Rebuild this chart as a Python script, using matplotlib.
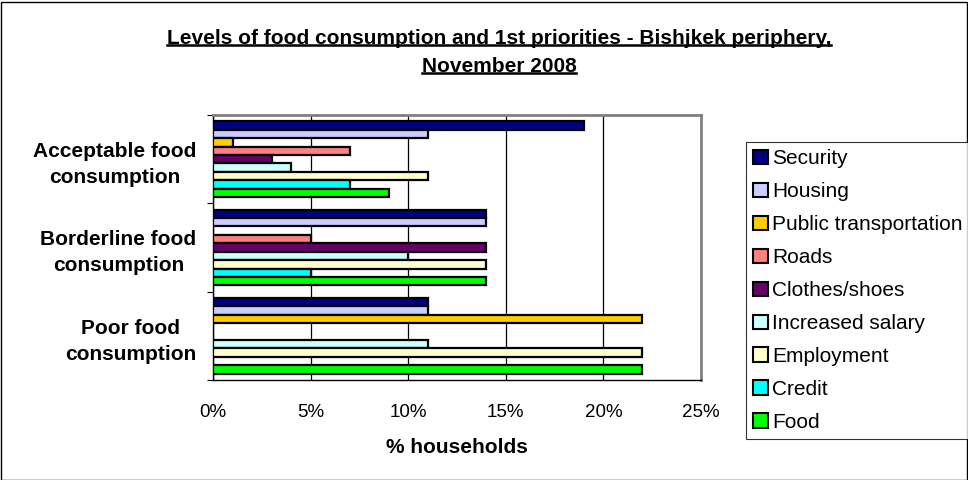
import numpy as np
import matplotlib
matplotlib.use('Agg')
from matplotlib import pyplot as plt
from matplotlib.patches import Patch, Rectangle
from matplotlib.lines import Line2D

plt.rcParams['font.family'] = ['Liberation Sans', 'DejaVu Sans']

groups = ['Acceptable food\nconsumption', 'Borderline food\nconsumption', 'Poor food\nconsumption']
series = ['Security', 'Housing', 'Public transportation', 'Roads', 'Clothes/shoes',
          'Increased salary', 'Employment', 'Credit', 'Food']
colors = ['#000080', '#CCCCFF', '#FFCC00', '#FF8080', '#660066',
          '#CCFFFF', '#FFFFCC', '#00FFFF', '#00FF00']

# % households, one list per consumption group, in series order
acceptable = [19, 11, 1, 7, 3, 4, 11, 7, 9]
borderline = [14, 14, 0, 5, 14, 10, 14, 5, 14]
poor = [11, 11, 22, 0, 0, 11, 22, 0, 22]
values = [acceptable, borderline, poor]

title_lines = ['Levels of food consumption and 1st priorities - Bishjkek periphery,',
               'November 2008']

fig = plt.figure(figsize=(9.68, 4.8), dpi=100)
ax = fig.add_axes([213 / 968, 1 - 380 / 480, 488 / 968, 265 / 480])

centers = [2, 1, 0]
span = 0.86
h = span / len(series)
for g, c in enumerate(centers):
    for i, name in enumerate(series):
        y = c + span / 2 - h * (i + 0.5)
        v = values[g][i]
        if v == 0:
            continue
        ax.barh(y, v, height=h, color=colors[i], edgecolor='black', linewidth=1.6, zorder=3)

ax.set_xlim(0, 25)
ax.set_ylim(-0.5, 2.5)
ax.set_xticks([0, 5, 10, 15, 20, 25])
ax.set_xticklabels([f'{t}%' for t in [0, 5, 10, 15, 20, 25]], fontsize=13.5)
ax.tick_params(axis='x', length=0, pad=17.5)
ax.xaxis.grid(True, color='black', linewidth=0.9, zorder=0)

ax.set_yticks([-0.5, 0.5, 1.5, 2.5])
ax.set_yticklabels([])
ax.set_yticks(centers, minor=True)
ax.set_yticklabels(groups, minor=True, fontsize=15, fontweight='bold', multialignment='center',
                   linespacing=1.45)
ax.tick_params(axis='y', which='major', length=4, direction='out', color='black')
ax.tick_params(axis='y', which='minor', length=0, pad=12)

for s in ['top', 'right']:
    ax.spines[s].set_color('#808080')
    ax.spines[s].set_linewidth(2)
for s in ['left', 'bottom']:
    ax.spines[s].set_color('black')
    ax.spines[s].set_linewidth(1)

ax.set_xlabel('% households', fontsize=15, fontweight='bold', labelpad=12)

handles = [Patch(facecolor=colors[i], edgecolor='black', linewidth=1.5, label=n)
           for i, n in enumerate(series)]
leg = fig.legend(handles=handles, loc='upper left', bbox_to_anchor=(746 / 968, 1 - 142 / 480),
                 fontsize=15, frameon=True, fancybox=False, edgecolor='black',
                 handlelength=0.7, handleheight=0.7, handletextpad=0.2,
                 labelspacing=0.67, borderpad=0.35, borderaxespad=0)
leg.get_frame().set_linewidth(0.8)

# title, underlined line by line
texts = []
for k, line in enumerate(title_lines):
    t = fig.text(499 / 968, 1 - (38 + 28 * k) / 480, line, ha='center', va='center',
                 fontsize=15, fontweight='bold')
    texts.append(t)
fig.canvas.draw()
r = fig.canvas.get_renderer()
for t in texts:
    bb = t.get_window_extent(r).transformed(fig.transFigure.inverted())
    yb = bb.y0 + 0.006
    fig.add_artist(Line2D([bb.x0, bb.x1], [yb, yb], color='black', linewidth=1.8,
                          transform=fig.transFigure))

fig.add_artist(Rectangle((0.5 / 968, 0.5 / 480), 966 / 968, 478 / 480, fill=False,
                         edgecolor='black', linewidth=1, transform=fig.transFigure))

fig.savefig('out.png', dpi=100)
